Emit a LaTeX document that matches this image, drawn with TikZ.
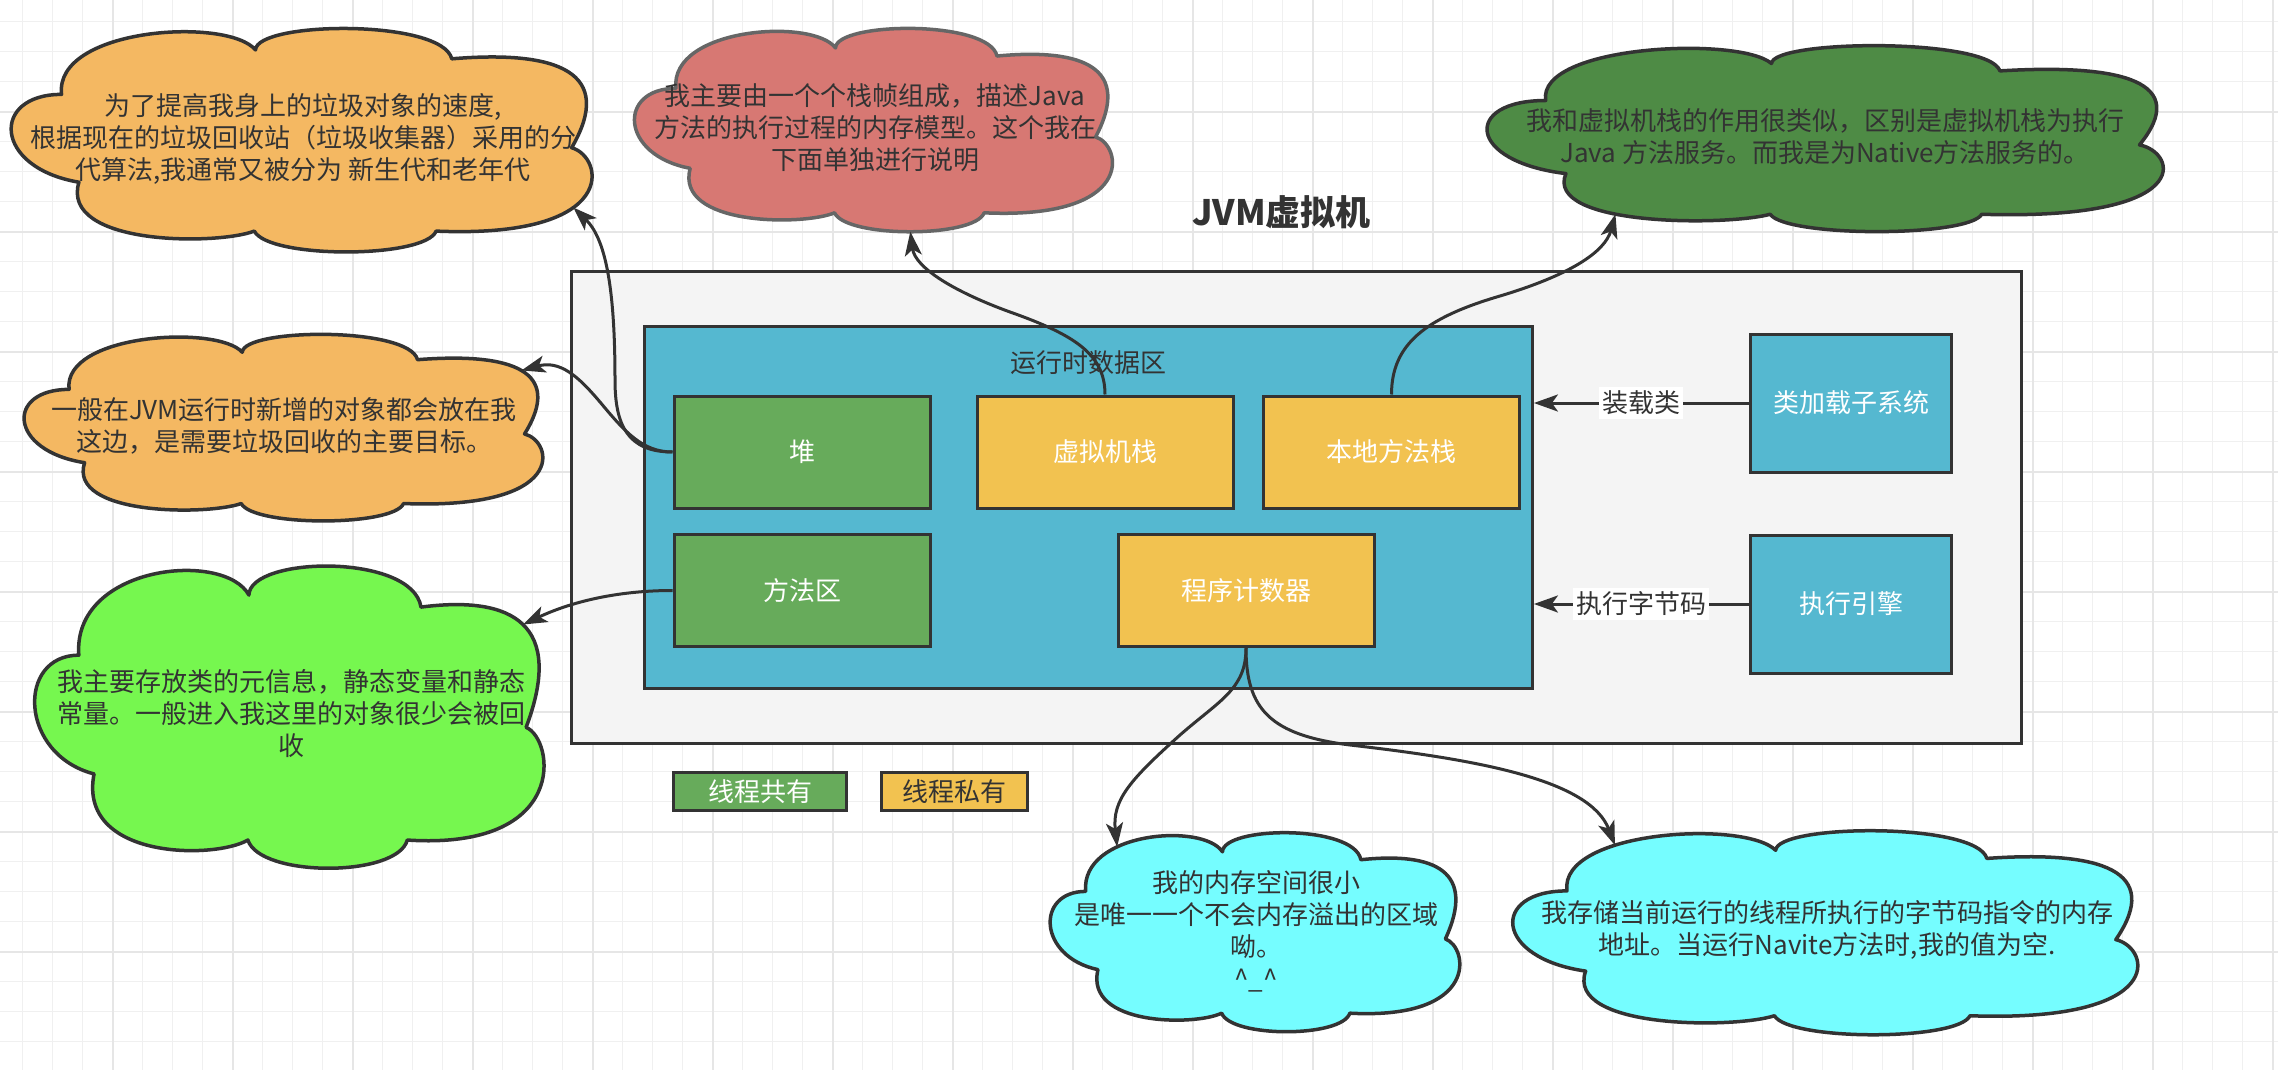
\documentclass[tikz,border=0pt]{standalone}
\usepackage{fontspec}
\setmainfont{Noto Sans CJK SC}
\usetikzlibrary{arrows.meta}

\definecolor{gridminor}{HTML}{F0F0F0}
\definecolor{gridmajor}{HTML}{E6E6E6}
\definecolor{ink}{HTML}{333333}
\definecolor{panel}{HTML}{F4F4F4}
\definecolor{blueA}{HTML}{55B8D0}
\definecolor{greenA}{HTML}{67AB5B}
\definecolor{yellowA}{HTML}{F2C250}
\definecolor{orangeC}{HTML}{F4B862}
\definecolor{redC}{HTML}{D77873}
\definecolor{redline}{HTML}{666666}
\definecolor{dgreenC}{HTML}{4E8B45}
\definecolor{lgreenC}{HTML}{76F74F}
\definecolor{cyanC}{HTML}{75FDFF}

\tikzset{
  txt/.style={font=\fontsize{26}{32}\selectfont},
  box/.style={draw=ink, line width=3pt, inner sep=0pt, txt},
  shared/.style={box, fill=greenA, text=white},
  private/.style={box, fill=yellowA, text=white},
  unit/.style={box, fill=blueA, text=white},
  cloudline/.style={line width=3.5pt, line join=round},
  ctext/.style={text=ink, align=center, inner sep=0pt, txt},
  conn/.style={draw=ink, line width=3pt, -{Stealth[length=24pt,width=17pt,inset=6pt]}},
  elabel/.style={fill=white, text=ink, inner xsep=3pt, inner ysep=4pt, txt},
  % cloud outline in unit coordinates (0..1 across, 0..1 downwards)
  cloud outline/.style={insert path={
    (.123,.695) .. controls (-.025,.63) and (-.03,.30) .. (.093,.30)
    .. controls (.08,0) and (.38,-.05) .. (.428,.10)
    .. controls (.43,-.03) and (.75,-.04) .. (.767,.14)
    .. controls (.95,.10) and (1.05,.20) .. (.974,.54)
    .. controls (1.03,.58) and (1.06,.95) .. (.74,.915)
    .. controls (.72,1.04) and (.45,1.04) .. (.426,.915)
    .. controls (.36,.98) and (.09,.98) .. (.123,.695) -- cycle}},
}

% #1,#2 top-left corner, #3 width, #4 height, #5 fill, #6 outline, #7 extra code in unit coordinates
\newcommand{\drawcloud}[7]{%
  \begin{scope}[shift={(#1,#2)}, x=#3pt, y=-#4pt]
    \path[cloudline, fill=#5, draw=#6, cloud outline];
    #7
  \end{scope}}

\begin{document}
\begin{tikzpicture}[x=1pt, y=-1pt]
  \useasboundingbox (0,0) rectangle (2278,1070);
  \fill[white] (0,0) rectangle (2278,1070);

  % background grid
  \foreach \i in {0,...,75}
    \draw[gridminor, line width=1.5pt] ({22.7+30*\i},0) -- ({22.7+30*\i},1070);
  \foreach \j in {0,...,34}
    \draw[gridminor, line width=1.5pt] (0,{21.7+30*\j}) -- (2278,{21.7+30*\j});
  \foreach \i in {0,...,18}
    \draw[gridmajor, line width=1.8pt] ({112.7+120*\i},0) -- ({112.7+120*\i},1070);
  \foreach \j in {0,...,7}
    \draw[gridmajor, line width=1.8pt] (0,{111.7+120*\j}) -- (2278,{111.7+120*\j});

  % JVM frame
  \node[box, fill=panel, minimum width=1450pt, minimum height=472pt] (jvm) at (1296,507.5) {};
  \node[text=ink, font=\bfseries\fontsize{35}{40}\selectfont] (title) at (1281.5,212) {JVM虚拟机};

  % runtime data area
  \node[box, fill=blueA, minimum width=888pt, minimum height=362pt] (rt) at (1088.4,507.5) {};
  \node[text=ink, txt] (rtl) at (1088,363) {运行时数据区};
  \node[shared, minimum width=256pt, minimum height=112pt] (heap) at (802,452) {堆};
  \node[private, minimum width=256pt, minimum height=112pt] (vs) at (1105,452) {虚拟机栈};
  \node[private, minimum width=256pt, minimum height=112pt] (ns) at (1391.5,452) {本地方法栈};
  \node[shared, minimum width=256pt, minimum height=112pt] (ma) at (802,590.5) {方法区};
  \node[private, minimum width=256pt, minimum height=112pt] (pc) at (1246,590.5) {程序计数器};

  % subsystems
  \node[unit, minimum width=201pt, minimum height=138pt] (cl) at (1851,403) {类加载子系统};
  \node[unit, minimum width=201pt, minimum height=138pt] (ee) at (1851,604) {执行引擎};

  % legend
  \node[shared, minimum width=173pt, minimum height=38pt] (lg1) at (760,791.5) {线程共有};
  \node[box, fill=yellowA, text=ink, minimum width=146pt, minimum height=38pt] (lg2) at (954.5,791.5) {线程私有};

  % clouds
  \drawcloud{7.7}{27.7}{579}{222.3}{orangeC}{ink}{\coordinate (t1) at (.977,.809);}
  \node[ctext] (c1) at (303,138.5) {为了提高我身上的垃圾对象的速度,\\根据现在的垃圾回收站（垃圾收集器）采用的分\\代算法,我通常又被分为 新生代和老年代};

  \drawcloud{631.6}{27.7}{476.4}{202.3}{redC}{redline}{\coordinate (t2) at (.585,1.008);}
  \node[ctext] (c2) at (875,128) {我主要由一个个栈帧组成，描述Java\\方法的执行过程的内存模型。这个我在\\下面单独进行说明};

  \drawcloud{1483}{45}{674}{185}{dgreenC}{ink}{\coordinate (t3) at (.1965,.914);}
  \node[ctext] (c3) at (1825,136.5) {我和虚拟机栈的作用很类似，区别是虚拟机栈为执行\\Java 方法服务。而我是为Native方法服务的。};

  \drawcloud{21}{333.7}{517}{185.6}{orangeC}{ink}{\coordinate (t4) at (.968,.198);}
  \node[ctext] (c4) at (284,425.5) {一般在JVM运行时新增的对象都会放在我\\这边，是需要垃圾回收的主要目标。};

  \drawcloud{31.6}{565}{507.7}{300.6}{lgreenC}{ink}{\coordinate (t5) at (.968,.198);}
  \node[ctext] (c5) at (291,713.3) {我主要存放类的元信息，静态变量和静态\\常量。一般进入我这里的对象很少会被回\\收};

  \drawcloud{1047.7}{832}{408.3}{198}{cyanC}{ink}{\coordinate (t6) at (.170,.075);}
  \node[ctext] (c6) at (1256,931) {我的内存空间很小\\是唯一一个不会内存溢出的区域\\呦。\\\textasciicircum\_\textasciicircum};

  \drawcloud{1509}{830}{623}{203}{cyanC}{ink}{\coordinate (t7) at (.170,.075);}
  \node[ctext] (c7) at (1827,930) {我存储当前运行的线程所执行的字节码指令的内存\\地址。当运行Navite方法时,我的值为空.};

  % connectors
  \draw[conn] (heap.west) .. controls +(-45,0) and (615,425) .. (615,380)
              .. controls (615,285) and (605,238) .. (t1);
  \draw[conn] (heap.west) .. controls +(-30,0) and (625,432) .. (600,402)
              .. controls (578,376) and (560,360) .. (t4);
  \draw[conn] (ma.west) .. controls +(-50,0) and (575,600) .. (t5);
  \draw[conn] (vs.north) .. controls +(0,-40) and (1075,335) .. (1010,312)
              .. controls (955,292) and (915,268) .. (t2);
  \draw[conn] (ns.north) .. controls +(0,-50) and (1425,318) .. (1500,296)
              .. controls (1570,275) and (1605,252) .. (t3);
  \draw[conn] (pc.south) .. controls +(0,41) and (1220,700) .. (1180,735)
              .. controls (1130,780) and (1112,800) .. (t6);
  \draw[conn] (pc.south) .. controls +(0,61) and (1270,735) .. (1350,745)
              .. controls (1480,760) and (1590,780) .. (t7);
  \draw[conn] (cl.west) -- (cl.west -| rt.east) node[midway, elabel] {装载类};
  \draw[conn] (ee.west) -- (ee.west -| rt.east) node[midway, elabel] {执行字节码};
\end{tikzpicture}
\end{document}
